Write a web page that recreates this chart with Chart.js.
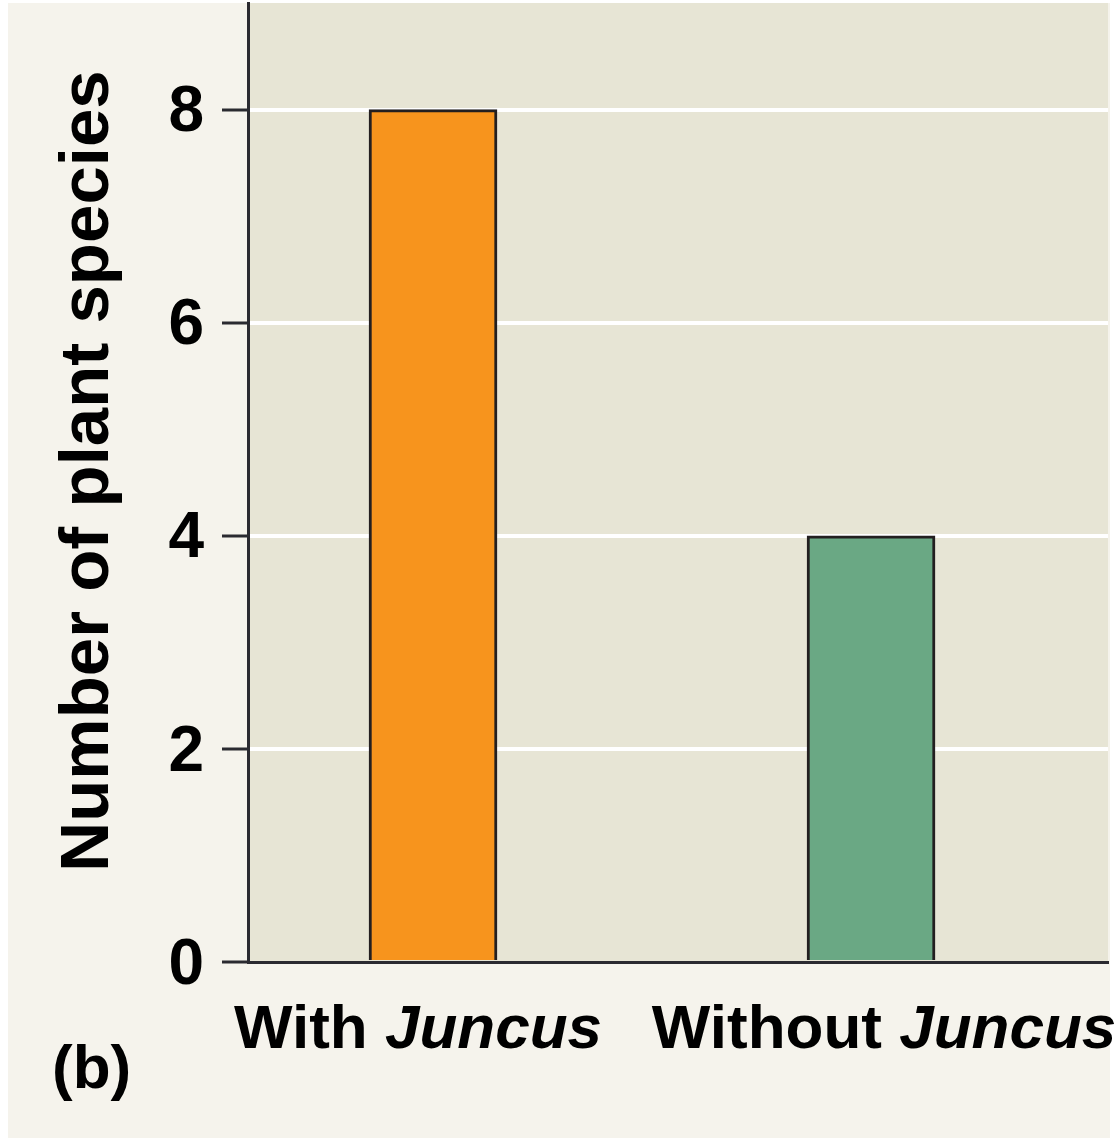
<!DOCTYPE html>
<html>
<head>
<meta charset="utf-8">
<script src="https://cdn.jsdelivr.net/npm/chart.js@4.4.1/dist/chart.umd.min.js"></script>
<style>
  html, body { margin: 0; padding: 0; background: #ffffff; }
  #wrap { width: 1119px; height: 1141px; }
</style>
</head>
<body>
<div id="wrap"><canvas id="c" width="1119" height="1141"></canvas></div>
<script>
// ---- data ----
const categoryPrefix = ['With', 'Without'];
const categoryTaxon = ['Juncus', 'Juncus'];
const categoryPositions = [1, 2];
const speciesCounts = [8, 4];
const barColors = ['#f7941d', '#6aa884'];
const yTickValues = [0, 2, 4, 6, 8];
const yAxisTitle = 'Number of plant species';
const panelLabel = '(b)';

const FONT = '"Liberation Sans", Arial, Helvetica, sans-serif';
const INK = '#000000';
const AXIS = '#2a2a30';
const LABEL_NUDGE = [-15, 13];

const decorPlugin = {
  id: 'decor',
  beforeDraw(chart) {
    const { ctx, chartArea } = chart;
    ctx.save();
    ctx.fillStyle = '#f5f3ec';
    ctx.fillRect(8, 3, 1102, 1135);
    ctx.fillStyle = '#e7e5d5';
    ctx.fillRect(chartArea.left, chartArea.top, chartArea.right - chartArea.left, chartArea.bottom - chartArea.top);
    ctx.restore();
  },
  afterDraw(chart) {
    const { ctx, scales } = chart;
    ctx.save();
    ctx.fillStyle = INK;
    // category labels with italic taxon name
    const regular = 'bold 62px ' + FONT;
    const italic = 'italic bold 62px ' + FONT;
    ctx.textBaseline = 'alphabetic';
    ctx.textAlign = 'left';
    categoryPrefix.forEach((pre, i) => {
      const cx = scales.x.getPixelForValue(categoryPositions[i]) + LABEL_NUDGE[i];
      const a = pre + ' ';
      ctx.font = regular;
      const wa = ctx.measureText(a).width;
      ctx.font = italic;
      const wb = ctx.measureText(categoryTaxon[i]).width;
      const x0 = cx - (wa + wb) / 2;
      ctx.font = regular;
      ctx.fillText(a, x0, 1048);
      ctx.font = italic;
      ctx.fillText(categoryTaxon[i], x0 + wa, 1048);
    });
    // y-axis title
    ctx.save();
    ctx.font = 'bold 69px ' + FONT;
    ctx.textAlign = 'center';
    ctx.translate(108, 471);
    ctx.rotate(-Math.PI / 2);
    ctx.fillText(yAxisTitle, 0, 0);
    ctx.restore();
    // panel label
    ctx.font = 'bold 62px ' + FONT;
    ctx.textAlign = 'left';
    ctx.fillText(panelLabel, 52, 1088);
    ctx.restore();
  }
};

new Chart(document.getElementById('c'), {
  type: 'bar',
  data: {
    datasets: [{
      data: categoryPositions.map((x, i) => ({ x: x, y: speciesCounts[i] })),
      backgroundColor: barColors,
      borderColor: '#231f20',
      borderWidth: 3,
      borderSkipped: 'start',
      barThickness: 128
    }]
  },
  options: {
    responsive: false,
    animation: false,
    devicePixelRatio: 1,
    layout: { padding: { left: 0, right: 11, top: 3, bottom: 0 } },
    plugins: { legend: { display: false }, tooltip: { enabled: false } },
    scales: {
      x: {
        type: 'linear',
        offset: false,
        min: 0.5776,
        max: 2.541,
        grid: { display: false, drawTicks: false },
        border: { display: true, color: AXIS, width: 3 },
        ticks: { display: false },
        afterFit(scale) { scale.height = 179; scale.paddingLeft = 0; scale.paddingRight = 0; }
      },
      y: {
        min: 0,
        max: 9,
        afterBuildTicks(scale) { scale.ticks = yTickValues.map(v => ({ value: v })); },
        grid: {
          color: ctx => (ctx.tick && ctx.tick.value === 0) ? 'rgba(0,0,0,0)' : '#ffffff',
          lineWidth: 4,
          tickColor: AXIS,
          tickWidth: 3,
          tickLength: 26,
          drawTicks: true
        },
        border: { display: true, color: AXIS, width: 3 },
        ticks: {
          color: INK,
          padding: 18,
          labelOffset: 4,
          font: { family: FONT, size: 64, weight: 'bold' }
        },
        afterFit(scale) { scale.width = 248; scale.paddingTop = 0; scale.paddingBottom = 0; }
      }
    }
  },
  plugins: [decorPlugin]
});
</script>
</body>
</html>
